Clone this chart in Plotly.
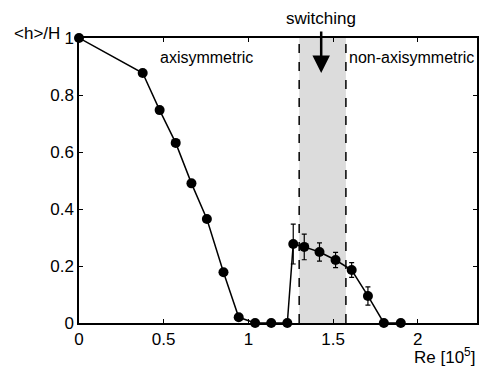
import plotly.graph_objects as go

re_vals = [0.0, 0.376, 0.476, 0.571, 0.664, 0.755, 0.853, 0.943, 1.04, 1.135, 1.23,
           1.265, 1.33, 1.42, 1.515, 1.61, 1.706, 1.80, 1.90]
h_vals = [1.0, 0.877, 0.747, 0.632, 0.49, 0.365, 0.178, 0.02, 0.0, 0.0, 0.0,
          0.277, 0.267, 0.249, 0.221, 0.186, 0.095, 0.0, 0.0]
h_err = [0, 0, 0, 0, 0, 0, 0, 0, 0, 0, 0,
         0.07, 0.045, 0.032, 0.027, 0.026, 0.032, 0, 0]
switch_lo, switch_hi = 1.30, 1.576
x_ticks = [0, 0.5, 1, 1.5, 2]
x_tick_text = ["0", "0.5", "1", "1.5", "2"]
y_ticks = [0, 0.2, 0.4, 0.6, 0.8, 1]
y_tick_text = ["0", "0.2", "0.4", "0.6", "0.8", "1"]

font = "Liberation Sans, Arial, sans-serif"
fig = go.Figure()
fig.add_shape(type="rect", x0=switch_lo, x1=switch_hi, y0=0, y1=1, xref="x", yref="y",
              fillcolor="#dcdcdc", line=dict(width=0), layer="below")
for xv in (switch_lo, switch_hi):
    fig.add_shape(type="line", x0=xv, x1=xv, y0=0, y1=1, xref="x", yref="y",
                  line=dict(color="black", width=1.5, dash="dash"))

fig.add_trace(go.Scatter(
    x=re_vals, y=h_vals, mode="lines+markers",
    line=dict(color="black", width=1.5),
    marker=dict(color="black", size=10),
    error_y=dict(type="data", array=h_err, visible=True, color="black", thickness=1.2, width=2.5),
    cliponaxis=False, showlegend=False))

fig.add_annotation(x=1.43, y=0.877, ax=1.43, ay=1.028, xref="x", yref="y", axref="x", ayref="y",
                   text="", showarrow=True, arrowhead=2, arrowsize=1.4, arrowwidth=2.5, arrowcolor="black")
fig.add_annotation(x=1.43, y=1.03, xref="x", yref="paper", text="switching", showarrow=False,
                   yanchor="bottom", yshift=-1, font=dict(size=17, color="black", family=font))
fig.add_annotation(x=0.476, y=0.933, xref="x", yref="y", text="axisymmetric", showarrow=False,
                   yanchor="middle", xanchor="left", xshift=-2, font=dict(size=16, color="black", family=font))
fig.add_annotation(x=1.594, y=0.933, xref="x", yref="y", text="non-axisymmetric", showarrow=False,
                   yanchor="middle", xanchor="left", xshift=-2, font=dict(size=16, color="black", family=font))
fig.add_annotation(x=0, y=1, xref="paper", yref="paper", text="&lt;h&gt;/H", showarrow=False,
                   xanchor="right", yanchor="middle", xshift=-17, yshift=5,
                   font=dict(size=17, color="black", family=font))
fig.add_annotation(x=1, y=0, xref="paper", yref="paper", text="Re [10<sup>5</sup>]", showarrow=False,
                   xanchor="right", yanchor="top", yshift=-20,
                   font=dict(size=17, color="black", family=font))

axis_common = dict(showgrid=False, zeroline=False, showline=True, linecolor="black", linewidth=1.5,
                   mirror="ticks", ticks="inside", ticklen=4, tickcolor="black",
                   tickfont=dict(size=17, color="black", family=font))
fig.update_xaxes(range=[0, 2.35], tickvals=x_ticks, ticktext=x_tick_text, **axis_common)
fig.update_yaxes(range=[0, 1], tickvals=y_ticks, ticktext=y_tick_text, **axis_common)
fig.update_layout(width=481, height=367, margin=dict(l=79, r=2, t=38, b=44),
                  plot_bgcolor="white", paper_bgcolor="white", font=dict(family=font))
fig.write_html("out.html")
